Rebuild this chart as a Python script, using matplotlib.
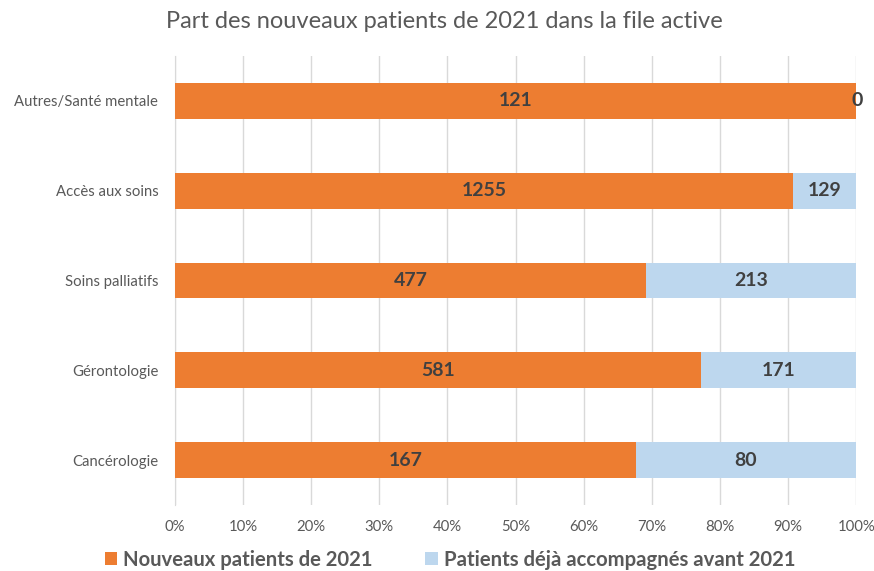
import matplotlib.pyplot as plt
import numpy as np

plt.rcParams['font.family'] = ['Lato', 'DejaVu Sans']

# data, bottom to top
categories = ["Cancérologie", "Gérontologie", "Soins palliatifs", "Accès aux soins", "Autres/Santé mentale"]
nouveaux = [167, 581, 477, 1255, 121]
anciens = [80, 171, 213, 129, 0]
series_names = ["Nouveaux patients de 2021", "Patients déjà accompagnés avant 2021"]
colors = ["#ED7D31", "#BDD7EE"]

nouveaux = np.array(nouveaux, dtype=float)
anciens = np.array(anciens, dtype=float)
total = nouveaux + anciens
p_new = nouveaux / total * 100
p_old = anciens / total * 100

fig = plt.figure(figsize=(8.74, 5.71), dpi=100)
ax = fig.add_axes([0.2002, 0.1156, 0.7794, 0.7863])

y = np.arange(len(categories))
b1 = ax.barh(y, p_new, height=0.4, color=colors[0], label=series_names[0], zorder=3)
b2 = ax.barh(y, p_old, left=p_new, height=0.4, color=colors[1], label=series_names[1], zorder=3)

for i in range(len(categories)):
    ax.text(p_new[i] / 2, y[i], str(int(nouveaux[i])), ha='center', va='center',
            fontsize=14, fontweight='bold', color='#404040', zorder=4)
    ax.text(p_new[i] + p_old[i] / 2 + (0.2 if p_old[i] == 0 else 0), y[i], str(int(anciens[i])),
            ha='center', va='center', fontsize=14, fontweight='bold', color='#404040', zorder=4)

ax.set_xlim(0, 100)
ax.set_ylim(-0.5, 4.5)
ax.set_xticks(np.arange(0, 101, 10))
ax.set_xticklabels([f"{v}%" for v in range(0, 101, 10)])
ax.set_yticks(y)
ax.set_yticklabels(categories)
ax.tick_params(axis='both', length=0, labelsize=10.7, labelcolor='#595959')
ax.tick_params(axis='y', pad=12)
ax.tick_params(axis='x', pad=11)
ax.grid(axis='x', color='#D9D9D9', linewidth=1, zorder=0)
for s in ['top', 'right', 'bottom']:
    ax.spines[s].set_visible(False)
ax.spines['left'].set_color('#D9D9D9')

fig.suptitle("Part des nouveaux patients de 2021 dans la file active", x=0.509, y=0.98,
             fontsize=17, color='#595959')

fig.legend(handles=[b1, b2], loc='lower center', bbox_to_anchor=(0.515, -0.03), ncol=2,
           frameon=False, prop={'size': 14.6, 'weight': 'bold'}, labelcolor='#595959',
           handlelength=0.6, handleheight=0.6, handletextpad=0.3, columnspacing=2.6)

fig.savefig("out.png", dpi=100)
